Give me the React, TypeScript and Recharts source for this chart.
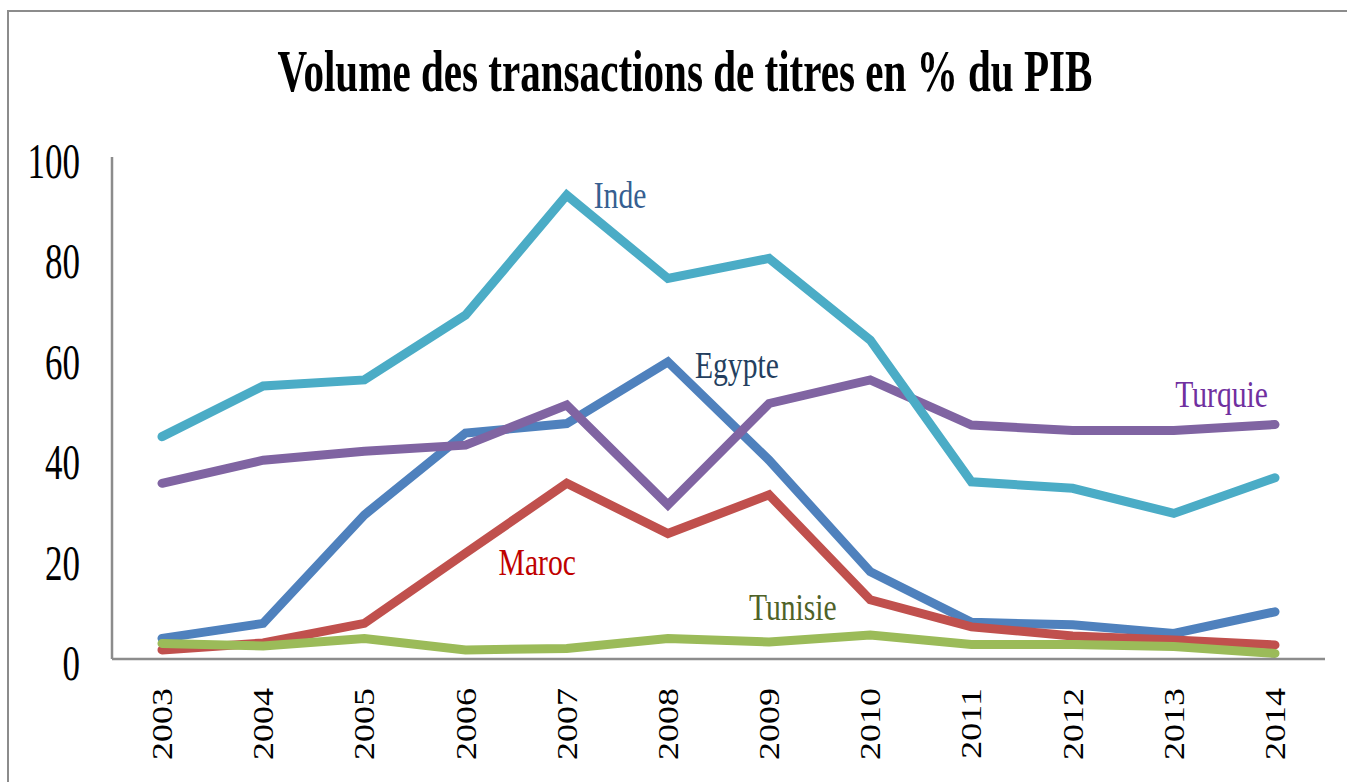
import { LineChart, Line, XAxis, YAxis } from "recharts";

const years = ["2003", "2004", "2005", "2006", "2007", "2008", "2009", "2010", "2011", "2012", "2013", "2014"];
const egypte = [4.1, 7.1, 28.7, 45.0, 46.9, 59.2, 39.6, 17.4, 7.3, 6.8, 5.1, 9.4];
const turquie = [35.0, 39.6, 41.4, 42.6, 50.6, 30.7, 50.9, 55.6, 46.6, 45.5, 45.5, 46.7];
const inde = [44.3, 54.4, 55.6, 68.5, 92.4, 75.8, 79.8, 63.5, 35.3, 34.0, 29.0, 36.1];
const maroc = [1.8, 3.2, 7.1, 21.1, 35.0, 25.0, 32.7, 11.8, 6.4, 4.6, 3.8, 2.8];
const tunisie = [3.1, 2.6, 4.1, 1.8, 2.1, 4.1, 3.4, 4.8, 2.9, 2.9, 2.5, 1.1];
const yTicks = [0, 20, 40, 60, 80, 100];

const data = years.map((year, i) => ({
  year,
  egypte: egypte[i],
  turquie: turquie[i],
  inde: inde[i],
  maroc: maroc[i],
  tunisie: tunisie[i],
}));

const FONT = '"Liberation Serif", "Times New Roman", serif';
const AXIS = "#8c8c8c";

// étiquette d'une série, posée près d'un point donné
function seriesLabel(text: string, idx: number, dx: number, dy: number, color: string, anchor: "start" | "end") {
  return (props: any) => {
    if (props.index !== idx) return null;
    return (
      <text
        transform={`translate(${props.x + dx}, ${props.y + dy}) scale(0.78, 1)`}
        textAnchor={anchor}
        fontFamily={FONT}
        fontSize={38}
        fill={color}
      >
        {text}
      </text>
    );
  };
}

function YTick({ x, y, payload }: any) {
  return (
    <text
      transform={`translate(${x - 24}, ${y + 21}) scale(0.7, 1)`}
      textAnchor="end"
      fontFamily={FONT}
      fontSize={50}
      fill="#000"
    >
      {payload.value}
    </text>
  );
}

function XTick({ x, y, payload }: any) {
  return (
    <g transform={`translate(${x + 10}, ${y + 21}) scale(0.83, 1) rotate(-90)`}>
      <text textAnchor="end" fontFamily={FONT} fontSize={36} fill="#000">
        {payload.value}
      </text>
    </g>
  );
}

export default function App() {
  const lineProps = {
    type: "linear" as const,
    strokeWidth: 9,
    strokeLinecap: "round" as const,
    dot: false,
    activeDot: false,
    isAnimationActive: false,
  };
  return (
    <div style={{ position: "fixed", left: 0, top: 0, width: 1347, height: 782, overflow: "hidden", background: "#fff" }}>
      <div
        style={{
          position: "absolute",
          left: 7,
          top: 10,
          width: 1400,
          height: 820,
          border: `2px solid ${AXIS}`,
        }}
      />
      <div style={{ position: "absolute", left: 0, top: 0 }}>
        <LineChart width={1347} height={782} data={data} margin={{ top: 157, right: 22, bottom: 0, left: 0 }}>
          <text x={685} y={91} textAnchor="middle" fontFamily={FONT} fontWeight="bold" fontSize={60} textLength={815} lengthAdjust="spacingAndGlyphs" fill="#000">
            Volume des transactions de titres en % du PIB
          </text>
          <XAxis
            dataKey="year"
            height={123}
            padding={{ left: 50, right: 50 }}
            axisLine={{ stroke: AXIS, strokeWidth: 2.5 }}
            tickLine={false}
            tick={<XTick />}
            interval={0}
          />
          <YAxis
            width={112}
            domain={[0, 100]}
            ticks={yTicks}
            axisLine={{ stroke: AXIS, strokeWidth: 2.5 }}
            tickLine={false}
            tick={<YTick />}
          />
          <Line {...lineProps} dataKey="egypte" stroke="#4F81BD" label={seriesLabel("Egypte", 5, 27, 16, "#243F60", "start")} />
          <Line {...lineProps} dataKey="turquie" stroke="#8064A2" label={seriesLabel("Turquie", 11, -7, -18, "#7030A0", "end")} />
          <Line {...lineProps} dataKey="inde" stroke="#4BACC6" label={seriesLabel("Inde", 4, 27, 13, "#365F91", "start")} />
          <Line {...lineProps} dataKey="maroc" stroke="#C0504D" label={seriesLabel("Maroc", 3, 33, 22, "#C00000", "start")} />
          <Line {...lineProps} dataKey="tunisie" stroke="#9BBB59" label={seriesLabel("Tunisie", 5, 81, -18, "#4F6228", "start")} />
        </LineChart>
      </div>
    </div>
  );
}
